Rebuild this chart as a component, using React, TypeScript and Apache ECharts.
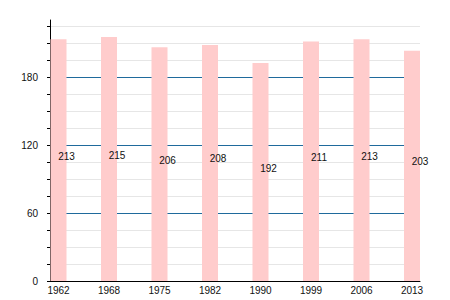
import React, { useEffect, useRef } from "react";
import * as echarts from "echarts";

const years = ["1962", "1968", "1975", "1982", "1990", "1999", "2006", "2013"];
const values = [213, 215, 206, 208, 192, 211, 213, 203];

const FONT = "'Liberation Sans', Arial, sans-serif";
const MAJOR = "#1f6a9c";
const MINOR = "#e6e6e6";

export default function App() {
  const ref = useRef<HTMLDivElement>(null);
  useEffect(() => {
    document.body.style.margin = "0";
    const chart = echarts.init(ref.current!, null, { renderer: "svg" });
    const hiddenX = (gridIndex: number) => ({ gridIndex, type: "value", show: false, min: 0, max: 1 });
    chart.setOption({
      animation: false,
      textStyle: { fontFamily: FONT },
      grid: [
        { left: 50, right: 30, top: 26, bottom: 19 },
        { left: 50, right: 30, top: 20, bottom: 19 },
        { left: 58.5, right: 38, top: 20, bottom: 19 },
        { left: 50, right: 30, top: 77, bottom: 19 },
      ],
      xAxis: [
        {
          gridIndex: 0,
          type: "value",
          min: 0,
          max: 1,
          axisLine: { show: true, onZero: false, lineStyle: { color: "#000", width: 1 } },
          axisTick: { show: false },
          axisLabel: { show: false },
          splitLine: { show: false },
        },
        hiddenX(1),
        {
          gridIndex: 2,
          type: "category",
          data: years,
          boundaryGap: false,
          axisLine: { show: false },
          axisTick: { show: false },
          splitLine: { show: false },
          axisLabel: { fontSize: 10, color: "#111", margin: 4, fontFamily: FONT, interval: 0 },
        },
        hiddenX(3),
      ],
      yAxis: [
        {
          gridIndex: 0,
          type: "value",
          min: 0,
          max: 225,
          interval: 15,
          axisLine: { show: false },
          axisTick: { show: true, length: 3, lineStyle: { color: "#000" } },
          axisLabel: {
            fontSize: 10,
            color: "#111",
            margin: 12,
            fontFamily: FONT,
            formatter: (v: number) => (v % 60 === 0 ? String(v) : ""),
          },
          splitLine: { show: true, lineStyle: { color: MINOR, width: 1 } },
        },
        {
          gridIndex: 1,
          type: "value",
          min: 0,
          max: 230,
          axisLine: { show: true, lineStyle: { color: "#000", width: 1 } },
          axisTick: { show: false },
          axisLabel: { show: false },
          splitLine: { show: false },
        },
        { gridIndex: 2, type: "value", min: 0, max: 230, show: false, splitLine: { show: false } },
        {
          gridIndex: 3,
          type: "value",
          min: 0,
          max: 180,
          interval: 60,
          axisLine: { show: false },
          axisTick: { show: false },
          axisLabel: { show: false },
          splitLine: { show: true, lineStyle: { color: MAJOR, width: 1 } },
        },
      ],
      series: [
        {
          type: "bar",
          xAxisIndex: 2,
          yAxisIndex: 2,
          data: values,
          barWidth: 16,
          itemStyle: { color: "#ffcccc" },
          label: {
            show: true,
            position: "inside",
            offset: [8, -4],
            fontSize: 10,
            color: "#111",
            fontFamily: FONT,
          },
        },
      ],
    });
    return () => chart.dispose();
  }, []);
  return <div ref={ref} style={{ width: 450, height: 300 }} />;
}
